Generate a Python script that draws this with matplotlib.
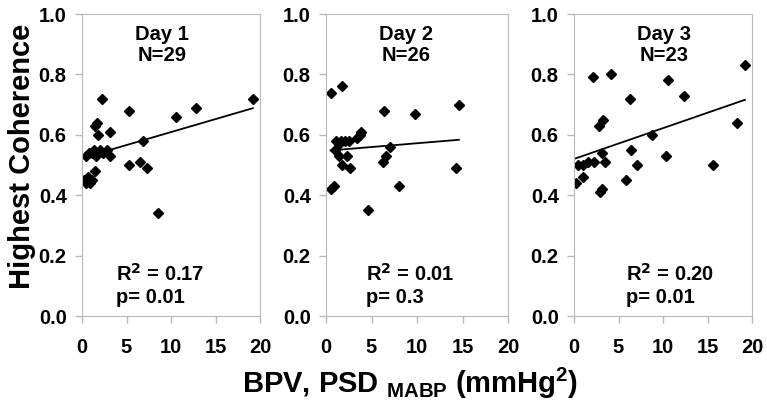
import numpy as np
import matplotlib.pyplot as plt

plt.rcParams['font.family'] = ['Liberation Sans', 'DejaVu Sans']
plt.rcParams['font.weight'] = 'bold'

# Day 1 (N=29)
day1_x = [0.2, 0.4, 0.7, 0.9, 1.1, 1.5, 0.5, 0.8, 1.1, 1.4, 1.6, 2.0, 2.4, 2.8, 3.1,
          1.5, 1.7, 1.8, 2.2, 3.1, 5.3, 5.3, 6.5, 6.8, 7.3, 8.5, 10.6, 12.8, 19.2]
day1_y = [0.45, 0.44, 0.46, 0.44, 0.45, 0.48, 0.53, 0.54, 0.54, 0.55, 0.53, 0.55, 0.54, 0.55, 0.53,
          0.63, 0.64, 0.60, 0.72, 0.61, 0.68, 0.50, 0.51, 0.58, 0.49, 0.34, 0.66, 0.69, 0.72]

# Day 2 (N=26)
day2_x = [0.5, 1.8, 1.1, 1.4, 1.6, 2.1, 2.5, 3.4, 3.7, 3.9, 1.0, 1.4, 2.3, 1.8, 2.6,
          0.9, 0.6, 4.6, 6.4, 7.0, 6.6, 6.3, 8.0, 9.8, 14.3, 14.6]
day2_y = [0.74, 0.76, 0.58, 0.57, 0.58, 0.58, 0.58, 0.59, 0.60, 0.61, 0.55, 0.53, 0.53, 0.50, 0.49,
          0.43, 0.42, 0.35, 0.68, 0.56, 0.53, 0.51, 0.43, 0.67, 0.49, 0.70]

# Day 3 (N=23)
day3_x = [0.4, 1.0, 1.6, 2.2, 3.1, 3.5, 0.2, 1.0, 2.9, 3.2, 2.85, 3.3, 2.1,
          4.2, 6.3, 6.4, 5.85, 7.05, 8.8, 10.3, 10.6, 12.4, 15.6, 18.35, 19.2]
day3_y = [0.50, 0.50, 0.51, 0.51, 0.54, 0.51, 0.44, 0.46, 0.41, 0.42, 0.63, 0.65, 0.79,
          0.80, 0.72, 0.55, 0.45, 0.50, 0.60, 0.53, 0.78, 0.73, 0.50, 0.64, 0.83]

# trend lines (intercept, slope)
trend = [(0.523, 0.0086), (0.547, 0.0025), (0.52, 0.0102)]

titles = ['Day 1\nN=29', 'Day 2\nN=26', 'Day 3\nN=23']
stats = ['R$^2$ = 0.17\np= 0.01', 'R$^2$ = 0.01\np= 0.3', 'R$^2$ = 0.20\np= 0.01']
title_x = [0.45, 0.44, 0.505]
stats_x = [0.19, 0.22, 0.29]

fig = plt.figure(figsize=(7.67, 4.03), dpi=100)
W, H = 767, 403
lefts = [82, 326, 574]
widths = [178, 182, 178]
data = [(day1_x, day1_y), (day2_x, day2_y), (day3_x, day3_y)]

for i in range(3):
    ax = fig.add_axes([lefts[i] / W, (H - 316) / H, widths[i] / W, 302 / H])
    xs, ys = data[i]
    ax.plot(xs, ys, 'D', color='black', markersize=5.5, linestyle='none')
    b0, b1 = trend[i]
    xl = np.array([min(xs), max(xs)])
    ax.plot(xl, b0 + b1 * xl, color='black', linewidth=1.3)
    ax.set_xlim(0, 20)
    ax.set_ylim(0, 1.0)
    ax.set_xticks([0, 5, 10, 15, 20])
    ax.set_yticks([0, 0.2, 0.4, 0.6, 0.8, 1.0])
    ax.set_yticklabels(['0.0', '0.2', '0.4', '0.6', '0.8', '1.0'])
    for s in ax.spines.values():
        s.set_color('#b8b8b8')
    ax.tick_params(colors='#b8b8b8', labelcolor='black', labelsize=14.5, length=5, width=1)
    ax.tick_params(axis='x', pad=11)
    ax.tick_params(axis='y', pad=6)
    ax.text(title_x[i], 0.897, titles[i], transform=ax.transAxes, ha='center', va='center',
            fontsize=14.5, fontweight='bold', linespacing=1.15)
    ax.text(stats_x[i], 0.103, stats[i], transform=ax.transAxes, ha='left', va='center',
            fontsize=14.5, fontweight='bold', linespacing=1.25)

fig.text(22 / W, 1 - 156 / H, 'Highest Coherence', rotation=90, ha='center', va='center',
         fontsize=21, fontweight='bold')
fig.text(410 / W, 1 - 383 / H, 'BPV, PSD $_{\\mathregular{MABP}}$ (mmHg$^{\\mathregular{2}}$)',
         ha='center', va='center', fontsize=21, fontweight='bold')

fig.savefig('out.png', dpi=100)
